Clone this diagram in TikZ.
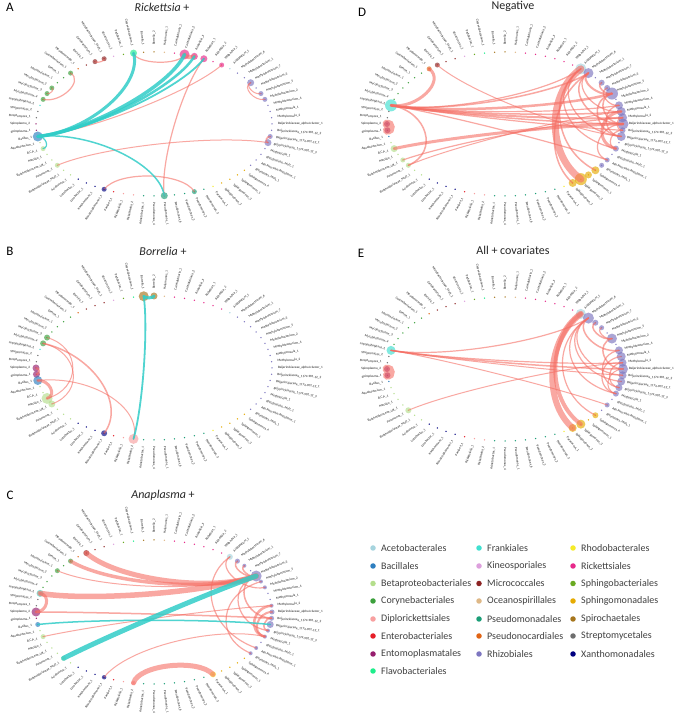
\documentclass[tikz,border=0pt]{standalone}
\usepackage{fontspec}
\setmainfont{Carlito}
\usetikzlibrary{calc}

\definecolor{cAce}{RGB}{166,212,222}
\definecolor{cBac}{RGB}{46,127,192}
\definecolor{cBet}{RGB}{180,222,140}
\definecolor{cCor}{RGB}{60,160,60}
\definecolor{cDip}{RGB}{248,160,160}
\definecolor{cEnt}{RGB}{230,30,40}
\definecolor{cEmo}{RGB}{150,30,110}
\definecolor{cFla}{RGB}{30,238,140}
\definecolor{cFra}{RGB}{64,224,208}
\definecolor{cKin}{RGB}{221,160,221}
\definecolor{cMic}{RGB}{140,35,35}
\definecolor{cOce}{RGB}{222,184,135}
\definecolor{cPsm}{RGB}{27,158,119}
\definecolor{cPsn}{RGB}{225,100,20}
\definecolor{cRhz}{RGB}{125,118,192}
\definecolor{cRhd}{RGB}{245,235,40}
\definecolor{cRic}{RGB}{231,41,138}
\definecolor{cSpb}{RGB}{106,170,34}
\definecolor{cSpm}{RGB}{230,171,2}
\definecolor{cSpi}{RGB}{166,118,29}
\definecolor{cStr}{RGB}{110,110,110}
\definecolor{cXan}{RGB}{0,0,128}
\definecolor{ePos}{RGB}{245,110,100}
\definecolor{eNeg}{RGB}{50,205,200}

\tikzset{
  lbl/.style={font=\fontsize{3.3}{4}\selectfont, text=black!90, inner sep=0pt, outer sep=0pt},
  bubble/.style={circle, inner sep=0pt, fill opacity=0.65, draw=none},
  poslink/.style={draw=ePos, draw opacity=0.6, line cap=round},
  neglink/.style={draw=eNeg, draw opacity=0.85, line cap=round},
  ttl/.style={font=\fontsize{12}{14}\selectfont, text=black!85},
  pletter/.style={font=\fontsize{13}{15}\selectfont, text=black},
  lgdot/.style={circle, inner sep=0pt, minimum size=5.5pt, draw=none},
  lgtxt/.style={font=\fontsize{10}{12}\selectfont, text=black!75, anchor=west, inner sep=0pt},
}

\def\LabelList{%
0/Beijerinckiaceae\_alphaI.cluster\_1/cRhz,%
5/Methylorosula\_2/cRhz,%
10/Methylorosula\_1/cRhz,%
15/Methylobacterium\_4/cRhz,%
20/Methylobacterium\_2/cRhz,%
25/Methylobacterium\_5/cRhz,%
30/Methylobacterium\_3/cRhz,%
35/Methylobacterium\_7/cRhz,%
40/Methylobacterium\_1/cRhz,%
45/Methylobacterium\_6/cRhz,%
50/Acidiphilium\_1/cAce,%
55/Wolbachia\_1/cRic,%
60/Rickettsia\_2/cRic,%
65/Rickettsia\_1/cRic,%
70/Rickettsia\_3/cRic,%
75/Ca.Midichloria\_2/cRic,%
80/Ca.Midichloria\_1/cRic,%
85/Halomonas\_1/cOce,%
90/Borrelia\_2/cSpi,%
95/Borrelia\_1/cSpi,%
100/Chryseobacterium\_1/cFla,%
105/Pedobacter\_1/cSpb,%
110/Kineococcus\_1/cKin,%
115/Microbacteriaceae\_Mult\_1/cMic,%
120/Curtobacterium\_1/cMic,%
125/Kocuria\_1/cMic,%
130/Pseudonocardia\_1/cPsn,%
135/Corynebacterium\_1/cCor,%
140/Dietzia\_1/cCor,%
145/Mycobacterium\_1/cCor,%
150/Mycobacterium\_2/cCor,%
155/Mycobacterium\_3/cCor,%
160/Mycobacterium\_4/cCor,%
165/Jatrophihabitans\_2/cFra,%
170/Streptomyces\_2/cStr,%
175/Streptomyces\_1/cStr,%
180/Spiroplasma\_2/cEmo,%
185/Spiroplasma\_1/cEmo,%
190/Bacillus\_1/cBac,%
195/Aquabacterium\_1/cBet,%
200/B.C.P.\_1/cBet,%
205/Massilia\_1/cBet,%
210/Burkholderiaceae\_UK\_1/cBet,%
215/Pelomonas\_1/cBet,%
220/Burkholderiaceae\_Mult\_1/cBet,%
225/Acidovorax\_1/cBet,%
230/Luteibacter\_1/cXan,%
235/Lysobacter\_1/cXan,%
240/Xanthomonas\_1/cXan,%
245/Stenotrophomonas\_1/cXan,%
250/Pantoea\_1/cEnt,%
255/Rickettsiella\_1/cDip,%
260/Rickettsiella\_2/cDip,%
265/Acinetobacter\_1/cPsm,%
270/Pseudomonas\_4/cPsm,%
275/Pseudomonas\_1/cPsm,%
280/Pseudomonas\_6/cPsm,%
285/Pseudomonas\_3/cPsm,%
290/Pseudomonas\_2/cPsm,%
295/Pseudomonas\_5/cPsm,%
300/Paracoccus\_1/cRhd,%
305/Sphingomonas\_2/cSpm,%
310/Sphingomonas\_3/cSpm,%
315/Sphingomonas\_1/cSpm,%
320/Sphingomonas\_4/cSpm,%
325/Rhizobiales\_Mult\_1/cRhz,%
330/Allo-Neo-Para-Rhizobium\_1/cRhz,%
335/Rhizobiaceae\_Mult\_1/cRhz,%
340/Methylocella\_1/cRhz,%
345/Beijerinckiaceae\_1174-901-12\_3/cRhz,%
350/Beijerinckiaceae\_1174-901-12\_1/cRhz,%
355/Beijerinckiaceae\_1174-901-12\_2/cRhz}

\newcommand\ring[3]{%
  \coordinate (#1c) at (#2,#3);
  \foreach \ang/\lab/\col in \LabelList {%
    \pgfmathsetmacro\cs{cos(\ang)}%
    \pgfmathsetmacro\sn{sin(\ang)}%
    \pgfmathsetmacro\dir{atan2(90*\sn,124*\cs)}%
    \coordinate (#1p\ang) at ({#2+118*\cs},{#3+72*\sn});
    \fill[\col] (#1p\ang) circle (0.75);
    \ifdim\cs pt<-0.001pt
      \pgfmathsetmacro\rot{\dir+180}%
      \node[lbl, anchor=east, rotate=\rot] (#1l\ang) at ({#2+124*\cs},{#3+79*\sn}) {\lab};
    \else
      \node[lbl, anchor=west, rotate=\dir] (#1l\ang) at ({#2+124*\cs},{#3+79*\sn}) {\lab};
    \fi
  }}

\newcommand\bub[4]{\node[bubble, fill=#4, minimum size=#3pt] (#1#2) at (#1p#2) {};}

\newcommand\lk[5]{%
  \pgfmathsetmacro\dd{abs(#2-#3)}%
  \pgfmathsetmacro\dd{\dd>180?360-\dd:\dd}%
  \pgfmathsetmacro\ff{1-0.45*min(1,\dd/70)}%
  \draw[#5link, line width=#4pt] (#1#2.center) .. controls ($(#1c)!\ff!(#1#2.center)$) and ($(#1c)!\ff!(#1#3.center)$) .. (#1#3.center);}

\begin{document}
\begin{tikzpicture}[x=1pt,y=1pt]
\useasboundingbox (0,0) rectangle (685,718);
\fill[white] (0,0) rectangle (685,718);

% ---------- rings ----------
\ring{A}{154}{594}
\ring{B}{154}{350}
\ring{C}{154}{106}
\ring{D}{505}{594}
\ring{E}{505}{349}

% ---------- titles ----------
\node[pletter] (tA) at (10,711) {A};
\node[ttl] (ttA) at (162,711) {\textit{Rickettsia} +};
\node[pletter] (tB) at (10,467) {B};
\node[ttl] (ttB) at (163,467) {\textit{Borrelia} +};
\node[pletter] (tC) at (10,223) {C};
\node[ttl] (ttC) at (163,223) {\textit{Anaplasma} +};
\node[pletter] (tD) at (362,706) {D};
\node[ttl] (ttD) at (513,712) {Negative};
\node[pletter] (tE) at (361,465) {E};
\node[ttl] (ttE) at (513,468) {All + covariates};

% ---------- panel A ----------
\bub{A}{190}{10}{cBac}
\bub{A}{200}{5}{cBet}
\bub{A}{215}{5}{cBet}
\bub{A}{245}{5}{cXan}
\bub{A}{275}{7}{cPsm}
\bub{A}{290}{5}{cPsm}
\bub{A}{100}{7}{cFla}
\bub{A}{75}{10}{cRic}
\bub{A}{70}{7}{cRic}
\bub{A}{65}{7}{cRic}
\bub{A}{55}{5}{cRic}
\bub{A}{115}{5}{cMic}
\bub{A}{120}{5}{cMic}
\bub{A}{135}{5}{cCor}
\bub{A}{150}{5}{cCor}
\bub{A}{155}{5}{cCor}
\bub{A}{160}{5}{cCor}
\bub{A}{35}{7}{cRhz}
\bub{A}{25}{5}{cRhz}
\bub{A}{20}{5}{cRhz}
\bub{A}{350}{5}{cRhz}
\bub{A}{345}{7}{cRhz}
\lk{A}{190}{55}{1}{pos}
\lk{A}{215}{345}{1}{pos}
\lk{A}{100}{75}{1.2}{pos}
\lk{A}{75}{70}{4}{pos}
\lk{A}{65}{275}{1.2}{pos}
\lk{A}{245}{290}{1.2}{pos}
\lk{A}{115}{120}{1.2}{pos}
\lk{A}{135}{160}{1.2}{pos}
\lk{A}{150}{155}{1}{pos}
\lk{A}{35}{25}{1}{pos}
\lk{A}{35}{20}{1}{pos}
\lk{A}{345}{350}{1.5}{pos}
\lk{A}{190}{100}{3}{neg}
\lk{A}{190}{75}{3.5}{neg}
\lk{A}{190}{70}{2.5}{neg}
\lk{A}{190}{65}{1.8}{neg}
\lk{A}{190}{275}{1.5}{neg}
\lk{A}{190}{200}{1.2}{neg}

% ---------- panel B ----------
\bub{B}{95}{10}{cSpi}
\bub{B}{90}{7}{cSpi}
\bub{B}{155}{6}{cCor}
\bub{B}{160}{6}{cCor}
\bub{B}{180}{7}{cEmo}
\bub{B}{185}{7}{cEmo}
\bub{B}{190}{9}{cBac}
\bub{B}{205}{11}{cBet}
\bub{B}{210}{7}{cBet}
\bub{B}{245}{6}{cXan}
\bub{B}{260}{10}{cDip}
\lk{B}{155}{205}{1}{pos}
\lk{B}{160}{210}{1}{pos}
\lk{B}{160}{245}{1.5}{pos}
\lk{B}{190}{260}{1}{pos}
\lk{B}{190}{205}{3}{pos}
\lk{B}{180}{185}{2}{pos}
\lk{B}{95}{260}{1.8}{neg}
\lk{B}{95}{90}{3}{neg}

% ---------- panel C ----------
\bub{C}{125}{6}{cMic}
\bub{C}{135}{5}{cCor}
\bub{C}{145}{5}{cCor}
\bub{C}{165}{7}{cFra}
\bub{C}{180}{9}{cEmo}
\bub{C}{190}{5}{cBac}
\bub{C}{200}{5}{cBet}
\bub{C}{220}{5}{cBet}
\bub{C}{245}{4.5}{cXan}
\bub{C}{260}{4.5}{cDip}
\bub{C}{300}{6}{cRhd}
\bub{C}{50}{6}{cAce}
\bub{C}{45}{5}{cRhz}
\bub{C}{40}{4}{cRhz}
\bub{C}{30}{11}{cRhz}
\bub{C}{25}{4}{cRhz}
\bub{C}{20}{4}{cRhz}
\bub{C}{5}{4}{cRhz}
\bub{C}{0}{5}{cRhz}
\bub{C}{355}{5}{cRhz}
\bub{C}{350}{7}{cRhz}
\bub{C}{345}{4}{cRhz}
\bub{C}{340}{4}{cRhz}
\bub{C}{330}{4}{cRhz}
\bub{C}{325}{4}{cRhz}
\lk{C}{125}{30}{5}{pos}
\lk{C}{135}{30}{3.5}{pos}
\lk{C}{145}{30}{1}{pos}
\lk{C}{165}{30}{5.5}{pos}
\lk{C}{165}{180}{3}{pos}
\lk{C}{180}{355}{1.5}{pos}
\lk{C}{200}{5}{1}{pos}
\lk{C}{245}{340}{1}{pos}
\lk{C}{260}{300}{5}{pos}
\lk{C}{50}{330}{1.2}{pos}
\lk{C}{45}{30}{1.5}{pos}
\lk{C}{40}{30}{1.5}{pos}
\lk{C}{50}{20}{1.2}{pos}
\lk{C}{30}{355}{1.5}{pos}
\lk{C}{30}{345}{1.2}{pos}
\lk{C}{5}{340}{2.5}{pos}
\lk{C}{0}{340}{2}{pos}
\lk{C}{355}{345}{1.5}{pos}
\lk{C}{25}{325}{1.2}{pos}
\lk{C}{190}{350}{1.5}{neg}
\lk{C}{220}{30}{5}{neg}

% ---------- panel D ----------
\bub{D}{130}{5}{cPsn}
\bub{D}{125}{5}{cMic}
\bub{D}{165}{12}{cFra}
\bub{D}{180}{6}{cEmo}
\bub{D}{185}{6}{cEmo}
\bub{D}{200}{7}{cBet}
\bub{D}{210}{5}{cBet}
\bub{D}{215}{5}{cBet}
\bub{D}{50}{11}{cAce}
\bub{D}{45}{10}{cRhz}
\bub{D}{35}{6}{cRhz}
\bub{D}{30}{6}{cRhz}
\bub{D}{25}{12}{cRhz}
\bub{D}{15}{8}{cRhz}
\bub{D}{10}{9}{cRhz}
\bub{D}{5}{9}{cRhz}
\bub{D}{0}{11}{cRhz}
\bub{D}{355}{6}{cRhz}
\bub{D}{350}{9}{cRhz}
\bub{D}{340}{6}{cRhz}
\bub{D}{330}{5}{cRhz}
\bub{D}{325}{5}{cRhz}
\bub{D}{320}{8}{cSpm}
\bub{D}{315}{7}{cSpm}
\bub{D}{310}{12}{cSpm}
\bub{D}{305}{8}{cSpm}
\lk{D}{180}{185}{9}{pos}
\lk{D}{165}{50}{1.2}{pos}
\lk{D}{165}{45}{1.5}{pos}
\lk{D}{165}{25}{2.5}{pos}
\lk{D}{165}{15}{1.2}{pos}
\lk{D}{165}{10}{1.5}{pos}
\lk{D}{165}{5}{2}{pos}
\lk{D}{165}{0}{1.5}{pos}
\lk{D}{165}{355}{1.2}{pos}
\lk{D}{165}{330}{1.2}{pos}
\lk{D}{130}{165}{3}{pos}
\lk{D}{165}{215}{1.5}{pos}
\lk{D}{125}{350}{1}{pos}
\lk{D}{200}{0}{3}{pos}
\lk{D}{210}{5}{1.2}{pos}
\lk{D}{215}{10}{1}{pos}
\lk{D}{50}{310}{7}{pos}
\lk{D}{50}{320}{1.5}{pos}
\lk{D}{50}{350}{1.2}{pos}
\lk{D}{50}{340}{1.2}{pos}
\lk{D}{45}{0}{1.5}{pos}
\lk{D}{45}{10}{1.2}{pos}
\lk{D}{45}{25}{2}{pos}
\lk{D}{35}{25}{1.5}{pos}
\lk{D}{25}{0}{1.5}{pos}
\lk{D}{25}{350}{1.5}{pos}
\lk{D}{15}{350}{1.2}{pos}
\lk{D}{10}{340}{3}{pos}
\lk{D}{5}{355}{1.2}{pos}
\lk{D}{0}{330}{1.2}{pos}
\lk{D}{355}{340}{1.2}{pos}
\lk{D}{45}{305}{1.5}{pos}
\lk{D}{30}{15}{1.2}{pos}

% ---------- panel E ----------
\bub{E}{165}{9}{cFra}
\bub{E}{180}{6}{cEmo}
\bub{E}{185}{6}{cEmo}
\bub{E}{215}{6}{cBet}
\bub{E}{50}{10}{cAce}
\bub{E}{45}{11}{cRhz}
\bub{E}{40}{6}{cRhz}
\bub{E}{35}{5}{cRhz}
\bub{E}{25}{10}{cRhz}
\bub{E}{15}{8}{cRhz}
\bub{E}{10}{9}{cRhz}
\bub{E}{5}{8}{cRhz}
\bub{E}{0}{10}{cRhz}
\bub{E}{355}{8}{cRhz}
\bub{E}{350}{8}{cRhz}
\bub{E}{345}{7}{cRhz}
\bub{E}{340}{6}{cRhz}
\bub{E}{330}{5}{cRhz}
\bub{E}{320}{6}{cSpm}
\bub{E}{310}{9}{cSpm}
\bub{E}{305}{8}{cSpm}
\lk{E}{180}{185}{9}{pos}
\lk{E}{165}{45}{1.2}{pos}
\lk{E}{165}{0}{1.5}{pos}
\lk{E}{165}{5}{1.2}{pos}
\lk{E}{165}{355}{1}{pos}
\lk{E}{165}{330}{1}{pos}
\lk{E}{215}{5}{1}{pos}
\lk{E}{50}{310}{4}{pos}
\lk{E}{50}{305}{6}{pos}
\lk{E}{45}{350}{1.2}{pos}
\lk{E}{45}{355}{1.2}{pos}
\lk{E}{45}{15}{1.5}{pos}
\lk{E}{40}{25}{1.5}{pos}
\lk{E}{35}{25}{1.2}{pos}
\lk{E}{25}{0}{1.5}{pos}
\lk{E}{15}{345}{1.2}{pos}
\lk{E}{45}{340}{1.2}{pos}
\lk{E}{10}{340}{1.2}{pos}
\lk{E}{45}{320}{1.2}{pos}
\lk{E}{5}{345}{1.2}{pos}
\lk{E}{0}{340}{1}{pos}

% ---------- legend ----------
\foreach \i/\lx/\ly/\lc/\lt in {%
  1/373/170/cAce/Acetobacterales,
  2/373/152/cBac/Bacillales,
  3/373/134.5/cBet/Betaproteobacteriales,
  4/373/117/cCor/Corynebacteriales,
  5/373/99/cDip/Diplorickettsiales,
  6/373/82/cEnt/Enterobacteriales,
  7/373/64/cEmo/Entomoplasmatales,
  8/373/47/cFla/Flavobacteriales,
  9/479/170/cFra/Frankiales,
  10/479/152/cKin/Kineosporiales,
  11/479/134.5/cMic/Micrococcales,
  12/479/117/cOce/Oceanospirillales,
  13/479/99/cPsm/Pseudomonadales,
  14/479/82/cPsn/Pseudonocardiales,
  15/479/64/cRhz/Rhizobiales,
  16/573/170/cRhd/Rhodobacterales,
  17/573/152/cRic/Rickettsiales,
  18/573/134.5/cSpb/Sphingobacteriales,
  19/573/117/cSpm/Sphingomonadales,
  20/573/99/cSpi/Spirochaetales,
  21/573/82/cStr/Streptomycetales,
  22/573/64/cXan/Xanthomonadales}{
  \node[lgdot, fill=\lc] (lgd\i) at (\lx,\ly) {};
  \node[lgtxt] (lgt\i) at ([xshift=8pt]lgd\i.center) {\lt};
}
\end{tikzpicture}
\end{document}
